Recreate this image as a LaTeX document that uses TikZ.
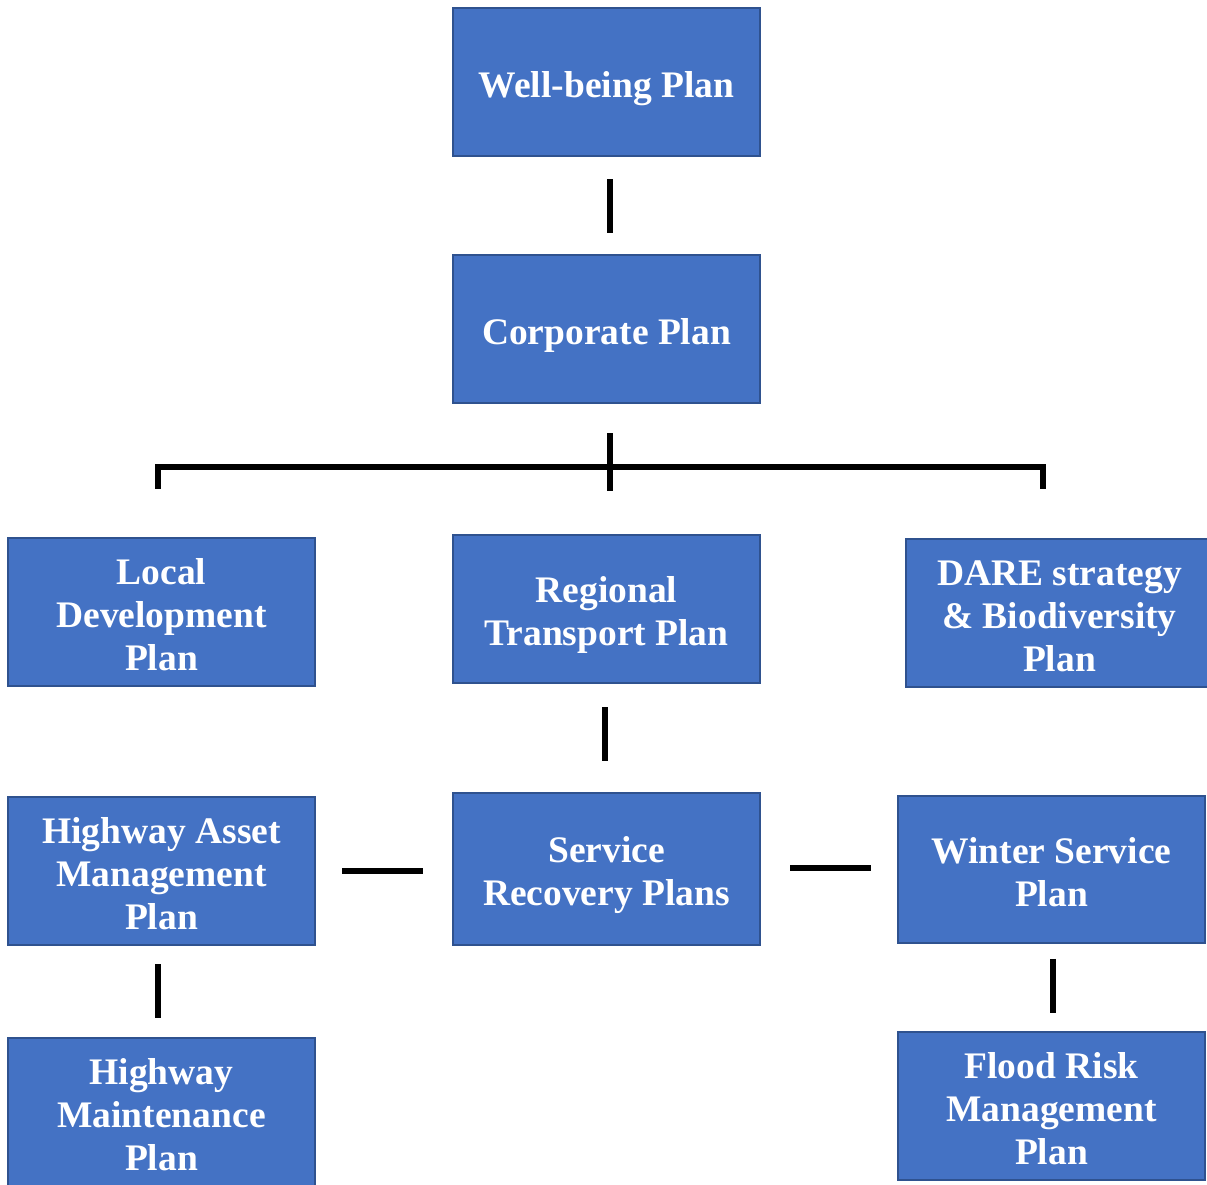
\documentclass[tikz,border=0pt]{standalone}
\usepackage{fontspec}
\setmainfont{Liberation Serif}
\usetikzlibrary{calc}
\definecolor{boxfill}{HTML}{4472C4}
\definecolor{boxline}{HTML}{2F528F}
\newcommand\plantext[1]{\raisebox{-6.5pt}[\height][\depth]{\begin{tabular}{@{}c@{}}#1\end{tabular}}}
\begin{document}
\begin{tikzpicture}[x=1pt,y=-1pt,
  planbox/.style={draw=boxline,fill=boxfill,line width=2.5pt,text=white,
    minimum width=307pt,minimum height=148pt,inner sep=0pt,
    font=\fontsize{37.5}{43}\selectfont\bfseries},
  conn/.style={draw=black,line width=5.5pt}]
\useasboundingbox (0,0) rectangle (1207,1184);
\clip (0,0) rectangle (1207,1184);
\node[planbox] (wb) at (606.5,82) {\plantext{Well-being Plan}};
\node[planbox] (cp) at (606.5,329) {\plantext{Corporate Plan}};
\node[planbox] (ldp) at (161.5,612) {\plantext{Local\\Development\\Plan}};
\node[planbox] (rtp) at (606.5,609) {\plantext{Regional\\Transport Plan}};
\node[planbox] (dare) at (1059.5,613) {\plantext{DARE strategy\\\&\ Biodiversity\\Plan}};
\node[planbox] (ham) at (161.5,871) {\plantext{Highway Asset\\Management\\Plan}};
\node[planbox,minimum height=152pt] (srp) at (606.5,869) {\plantext{Service\\Recovery Plans}};
\node[planbox,minimum height=147pt] (wsp) at (1051.5,869.5) {\plantext{Winter Service\\Plan}};
\node[planbox] (hmp) at (161.5,1112) {\plantext{Highway\\Maintenance\\Plan}};
\node[planbox] (frm) at (1051.5,1106) {\plantext{Flood Risk\\Management\\Plan}};
% connectors
\draw[conn] ([xshift=3.5pt,yshift=-22pt]wb.south) -- ([xshift=3.5pt,yshift=21pt]cp.north);
\draw[conn] ([xshift=3.5pt,yshift=-29pt]cp.south) -- ([xshift=3.5pt,yshift=-87pt]cp.south);
\draw[conn] ([xshift=-3.5pt,yshift=48pt]ldp.north) -- ([xshift=-3.5pt,yshift=70pt]ldp.north)
  -- ([xshift=-16.5pt,yshift=71pt]dare.north) -- ([xshift=-16.5pt,yshift=49pt]dare.north);
\draw[conn] ([xshift=-1.5pt,yshift=-23pt]rtp.south) -- ([xshift=-1.5pt,yshift=31pt]srp.north);
\draw[conn] ([xshift=26pt]ham.east) -- ([xshift=-29pt,yshift=-2pt]srp.west);
\draw[conn] ([xshift=29pt,yshift=1pt]srp.east) -- ([xshift=-26pt,yshift=1.5pt]wsp.west);
\draw[conn] ([xshift=-3.5pt,yshift=-18pt]ham.south) -- ([xshift=-3.5pt,yshift=19pt]hmp.north);
\draw[conn] ([xshift=1.5pt,yshift=-14.5pt]wsp.south) -- ([xshift=1.5pt,yshift=18pt]frm.north);
\end{tikzpicture}
\end{document}
